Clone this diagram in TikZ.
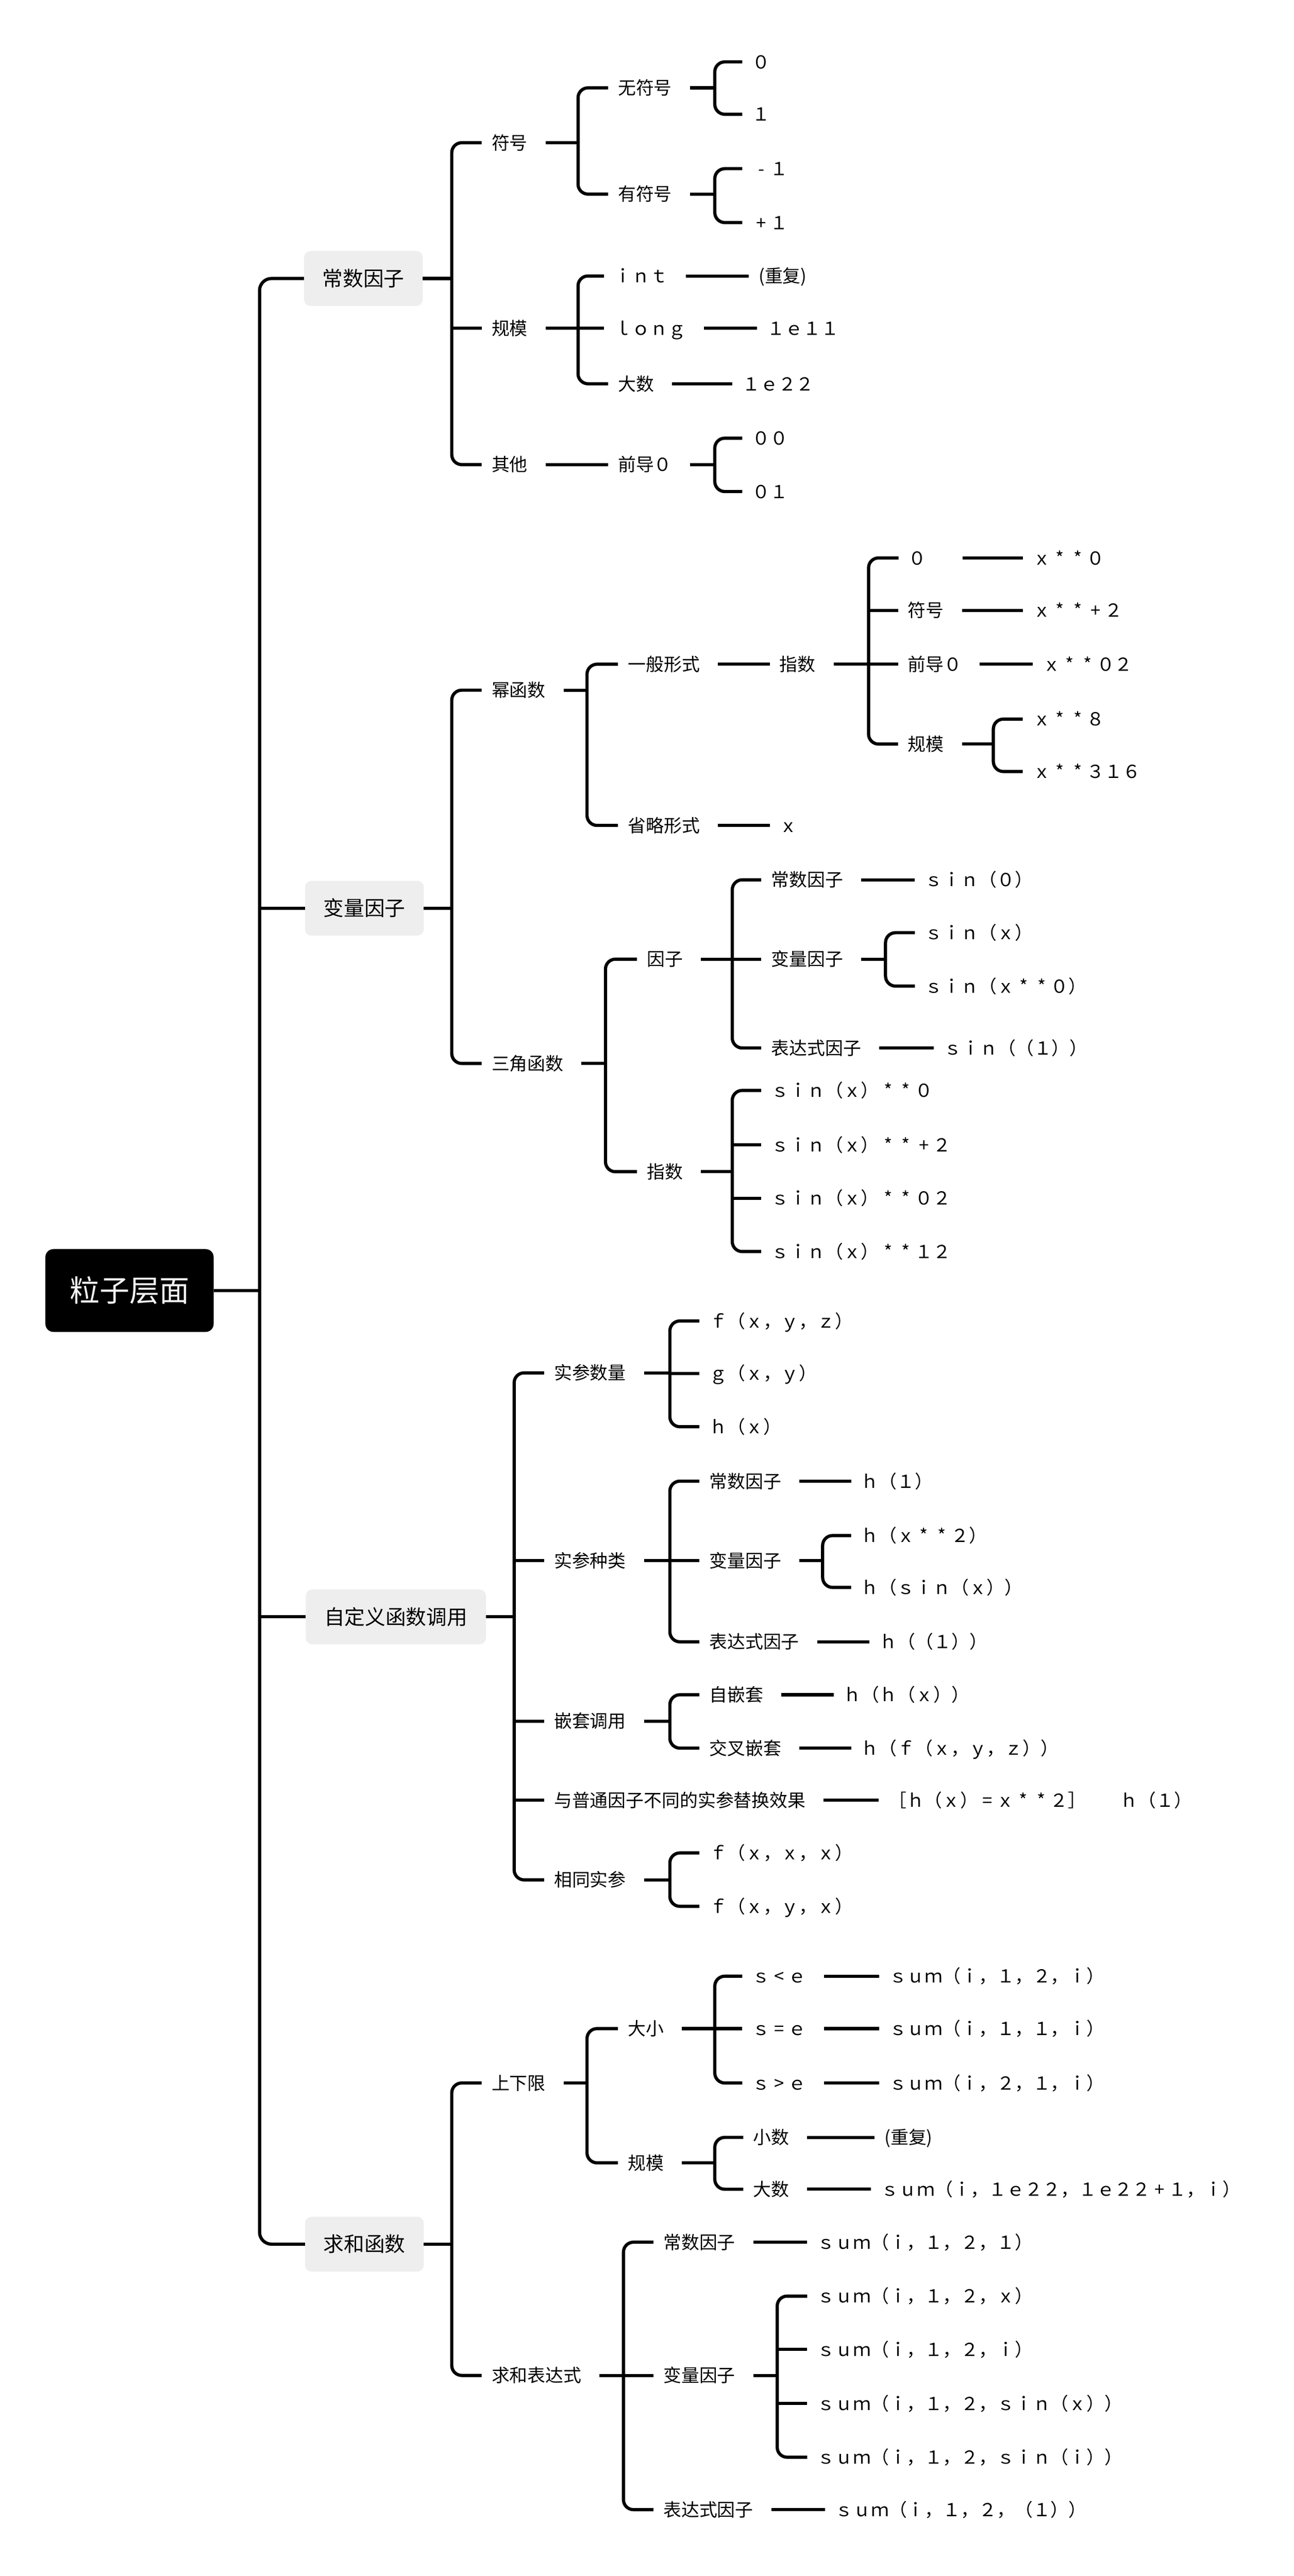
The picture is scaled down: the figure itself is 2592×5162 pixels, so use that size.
\documentclass[tikz,border=0pt]{standalone}
\usepackage{fontspec}
\setmainfont{Noto Sans CJK SC}
\definecolor{boxgray}{HTML}{EEEEEE}
\definecolor{roottext}{HTML}{F2F2F2}
\newcommand{\gp}{9pt}
\newcommand{\gc}{5pt}
\newcommand{\rc}{5pt}
% fixed-pitch small symbols
\newcommand{\fs}[1]{\makebox[1em]{#1}}
\newcommand{\st}{\fs{*}}
% single connector parent -> child
\newcommand{\sline}[2]{\draw[ln] ([xshift=\gp]#1.east) -- ([xshift=-\gc]#2.west);}
% parent stub to a bar at x=#2
\newcommand{\pstub}[2]{\draw[ln] ([xshift=\gp]#1.east) -- (#2,0 |- #1.east);}
% fork: parent #1, bar x #2, first child #3, last child #4
\newcommand{\fk}[4]{\pstub{#1}{#2}\draw[ln,rounded corners=\rc] ([xshift=-\gc]#3.west) -- (#2,0 |- #3.west) -- (#2,0 |- #4.west) -- ([xshift=-\gc]#4.west);}
% fork from a level-1 box (no gap)
\newcommand{\fkb}[4]{\draw[ln] (#1.east) -- (#2,0 |- #1.east);\draw[ln,rounded corners=\rc] ([xshift=-\gc]#3.west) -- (#2,0 |- #3.west) -- (#2,0 |- #4.west) -- ([xshift=-\gc]#4.west);}
% middle child stub
\newcommand{\midstub}[2]{\draw[ln] (#2,0 |- #1.west) -- ([xshift=-\gc]#1.west);}
\begin{document}
\begin{tikzpicture}[x=0.25pt,y=-0.25pt,
  ln/.style={line width=1.6pt,black},
  t/.style={anchor=west,inner xsep=0pt,inner ysep=0pt,outer sep=0pt,
    font=\fontsize{9pt}{11pt}\selectfont,text height=8pt,text depth=1.2pt},
  lvone/.style={fill=boxgray,rounded corners=3.25pt,inner xsep=9.25pt,inner ysep=0pt,
    outer sep=0pt,minimum height=27.5pt,
    font=\fontsize{10.25pt}{12pt}\selectfont,text height=9.1pt,text depth=1.4pt},
  rootbox/.style={fill=black,text=roottext,rounded corners=4pt,inner sep=0pt,outer sep=0pt,
    minimum width=84.25pt,minimum height=41.5pt,
    font=\fontsize{15pt}{18pt}\selectfont,text height=13.3pt,text depth=2pt}]
\useasboundingbox (0,0) rectangle (2592,5162);

% ---------- root and level 1 ----------
\node[rootbox] (R) at (259.5,2586) {粒子层面};
\node[lvone] (A) at (728,558) {常数因子};
\node[lvone] (B) at (730,1820) {变量因子};
\node[lvone] (C) at (793,3240) {自定义函数调用};
\node[lvone] (D) at (730,4497) {求和函数};

\draw[ln] (R.east) -- (520,0 |- R.east);
\draw[ln,rounded corners=6pt] (A.west) -- (520,0 |- A.west) -- (520,0 |- D.west) -- (D.west);
\draw[ln] (520,0 |- B.west) -- (B.west);
\draw[ln] (520,0 |- C.west) -- (C.west);

% ---------- 常数因子 ----------
\node[t] (a1) at (985,286) {符号};
\node[t] (a2) at (985,658) {规模};
\node[t] (a3) at (985,931) {其他};
\node[t] (a11) at (1238,176) {无符号};
\node[t] (a12) at (1238,389) {有符号};
\node[t] (a111) at (1507,124) {０};
\node[t] (a112) at (1507,229) {１};
\node[t] (a121) at (1507,338) {\fs{-}１};
\node[t] (a122) at (1507,446) {\fs{+}１};
\node[t] (a21) at (1230,553) {ｉｎｔ};
\node[t] (a22) at (1230,658) {ｌｏｎｇ};
\node[t] (a23) at (1238,769) {大数};
\node[t] (a211) at (1520,553) {(重复)};
\node[t] (a221) at (1537,658) {１ｅ１１};
\node[t] (a231) at (1487,769) {１ｅ２２};
\node[t] (a31) at (1238,931) {前导０};
\node[t] (a311) at (1507,878) {００};
\node[t] (a312) at (1507,985) {０１};

\fkb{A}{905}{a1}{a3}
\midstub{a2}{905}
\fk{a1}{1158}{a11}{a12}
\fk{a11}{1432}{a111}{a112}
\fk{a12}{1432}{a121}{a122}
\fk{a2}{1158}{a21}{a23}
\midstub{a22}{1158}
\sline{a21}{a211}
\sline{a22}{a221}
\sline{a23}{a231}
\sline{a3}{a31}
\fk{a31}{1432}{a311}{a312}

% ---------- 变量因子 ----------
\node[t] (b1) at (985,1383) {幂函数};
\node[t] (b2) at (985,2131) {三角函数};
\node[t] (b11) at (1258,1331) {一般形式};
\node[t] (b12) at (1258,1654) {省略形式};
\node[t] (b111) at (1562,1331) {指数};
\node[t] (b1111) at (1820,1118) {０\hphantom{０}};
\node[t] (b1112) at (1819,1223) {符号};
\node[t] (b1113) at (1819,1331) {前导０};
\node[t] (b1114) at (1819,1491) {规模};
\node[t] (b11111) at (2069,1118) {ｘ\st\st０};
\node[t] (b11121) at (2069,1223) {ｘ\st\st\fs{+}２};
\node[t] (b11131) at (2089,1331) {ｘ\st\st０２};
\node[t] (b11141) at (2069,1441) {ｘ\st\st８};
\node[t] (b11142) at (2069,1546) {ｘ\st\st３１６};
\node[t] (b121) at (1562,1654) {ｘ};
\node[t] (b21) at (1296,1922) {因子};
\node[t] (b22) at (1296,2348) {指数};
\node[t] (b211) at (1545,1763) {常数因子};
\node[t] (b212) at (1545,1922) {变量因子};
\node[t] (b213) at (1545,2100) {表达式因子};
\node[t] (b2111) at (1853,1763) {ｓｉｎ（０）};
\node[t] (b2121) at (1853,1869) {ｓｉｎ（ｘ）};
\node[t] (b2122) at (1853,1976) {ｓｉｎ（ｘ\st\st０）};
\node[t] (b2131) at (1891,2100) {ｓｉｎ（（１））};
\node[t] (b221) at (1545,2185) {ｓｉｎ（ｘ）\st\st０};
\node[t] (b222) at (1545,2294) {ｓｉｎ（ｘ）\st\st\fs{+}２};
\node[t] (b223) at (1545,2401) {ｓｉｎ（ｘ）\st\st０２};
\node[t] (b224) at (1545,2508) {ｓｉｎ（ｘ）\st\st１２};

\fkb{B}{905}{b1}{b2}
\fk{b1}{1176}{b11}{b12}
\sline{b11}{b111}
\fk{b111}{1740}{b1111}{b1114}
\midstub{b1112}{1740}
\midstub{b1113}{1740}
\sline{b1111}{b11111}
\sline{b1112}{b11121}
\sline{b1113}{b11131}
\fk{b1114}{1990}{b11141}{b11142}
\sline{b12}{b121}
\fk{b2}{1213}{b21}{b22}
\fk{b21}{1467}{b211}{b213}
\midstub{b212}{1467}
\sline{b211}{b2111}
\fk{b212}{1774}{b2121}{b2122}
\sline{b213}{b2131}
\fk{b22}{1467}{b221}{b224}
\midstub{b222}{1467}
\midstub{b223}{1467}

% ---------- 自定义函数调用 ----------
\node[t] (c1) at (1110,2751) {实参数量};
\node[t] (c2) at (1110,3127) {实参种类};
\node[t] (c3) at (1110,3449) {嵌套调用};
\node[t] (c4) at (1110,3607) {与普通因子不同的实参替换效果};
\node[t] (c5) at (1110,3767) {相同实参};
\node[t] (c11) at (1421,2647) {ｆ（ｘ，ｙ，ｚ）};
\node[t] (c12) at (1421,2752) {ｇ（ｘ，ｙ）};
\node[t] (c13) at (1421,2859) {ｈ（ｘ）};
\node[t] (c21) at (1421,2968) {常数因子};
\node[t] (c22) at (1421,3127) {变量因子};
\node[t] (c23) at (1421,3290) {表达式因子};
\node[t] (c211) at (1725,2968) {ｈ（１）};
\node[t] (c221) at (1725,3077) {ｈ（ｘ\st\st２）};
\node[t] (c222) at (1725,3181) {ｈ（ｓｉｎ（ｘ））};
\node[t] (c231) at (1762,3290) {ｈ（（１））};
\node[t] (c31) at (1421,3396) {自嵌套};
\node[t] (c32) at (1421,3503) {交叉嵌套};
\node[t] (c311) at (1690,3396) {ｈ（ｈ（ｘ））};
\node[t] (c321) at (1725,3503) {ｈ（ｆ（ｘ，ｙ，ｚ））};
\node[t] (c41) at (1780,3607) {［ｈ（ｘ）\fs{=}ｘ\st\st２］\hspace{1.9em}ｈ（１）};
\node[t] (c51) at (1421,3713) {ｆ（ｘ，ｘ，ｘ）};
\node[t] (c52) at (1421,3820) {ｆ（ｘ，ｙ，ｘ）};

\fkb{C}{1030}{c1}{c5}
\midstub{c2}{1030}
\midstub{c3}{1030}
\midstub{c4}{1030}
\fk{c1}{1342}{c11}{c13}
\midstub{c12}{1342}
\fk{c2}{1342}{c21}{c23}
\midstub{c22}{1342}
\sline{c21}{c211}
\fk{c22}{1648}{c221}{c222}
\sline{c23}{c231}
\fk{c3}{1342}{c31}{c32}
\sline{c31}{c311}
\sline{c32}{c321}
\sline{c4}{c41}
\fk{c5}{1342}{c51}{c52}

% ---------- 求和函数 ----------
\node[t] (d1) at (985,4174) {上下限};
\node[t] (d2) at (985,4760) {求和表达式};
\node[t] (d11) at (1258,4065) {大小};
\node[t] (d12) at (1258,4334) {规模};
\node[t] (d111) at (1507,3960) {ｓ\fs{<}ｅ};
\node[t] (d112) at (1507,4065) {ｓ\fs{=}ｅ};
\node[t] (d113) at (1507,4174) {ｓ\fs{>}ｅ};
\node[t] (d1111) at (1781,3960) {ｓｕｍ（ｉ，１，２，ｉ）};
\node[t] (d1121) at (1781,4065) {ｓｕｍ（ｉ，１，１，ｉ）};
\node[t] (d1131) at (1781,4174) {ｓｕｍ（ｉ，２，１，ｉ）};
\node[t] (d121) at (1509,4283) {小数};
\node[t] (d122) at (1509,4387) {大数};
\node[t] (d1211) at (1772,4283) {(重复)};
\node[t] (d1221) at (1765,4387) {ｓｕｍ（ｉ，１ｅ２２，１ｅ２２\fs{+}１，ｉ）};
\node[t] (d21) at (1329,4493) {常数因子};
\node[t] (d22) at (1329,4760) {变量因子};
\node[t] (d23) at (1329,5029) {表达式因子};
\node[t] (d211) at (1637,4493) {ｓｕｍ（ｉ，１，２，１）};
\node[t] (d221) at (1637,4601) {ｓｕｍ（ｉ，１，２，ｘ）};
\node[t] (d222) at (1637,4708) {ｓｕｍ（ｉ，１，２，ｉ）};
\node[t] (d223) at (1637,4816) {ｓｕｍ（ｉ，１，２，ｓｉｎ（ｘ））};
\node[t] (d224) at (1637,4924) {ｓｕｍ（ｉ，１，２，ｓｉｎ（ｉ））};
\node[t] (d231) at (1673,5029) {ｓｕｍ（ｉ，１，２，（１））};

\fkb{D}{905}{d1}{d2}
\fk{d1}{1176}{d11}{d12}
\fk{d11}{1432}{d111}{d113}
\midstub{d112}{1432}
\sline{d111}{d1111}
\sline{d112}{d1121}
\sline{d113}{d1131}
\fk{d12}{1432}{d121}{d122}
\sline{d121}{d1211}
\sline{d122}{d1221}
\fk{d2}{1249}{d21}{d23}
\midstub{d22}{1249}
\sline{d21}{d211}
\fk{d22}{1557}{d221}{d224}
\midstub{d222}{1557}
\midstub{d223}{1557}
\sline{d23}{d231}
\end{tikzpicture}
\end{document}
